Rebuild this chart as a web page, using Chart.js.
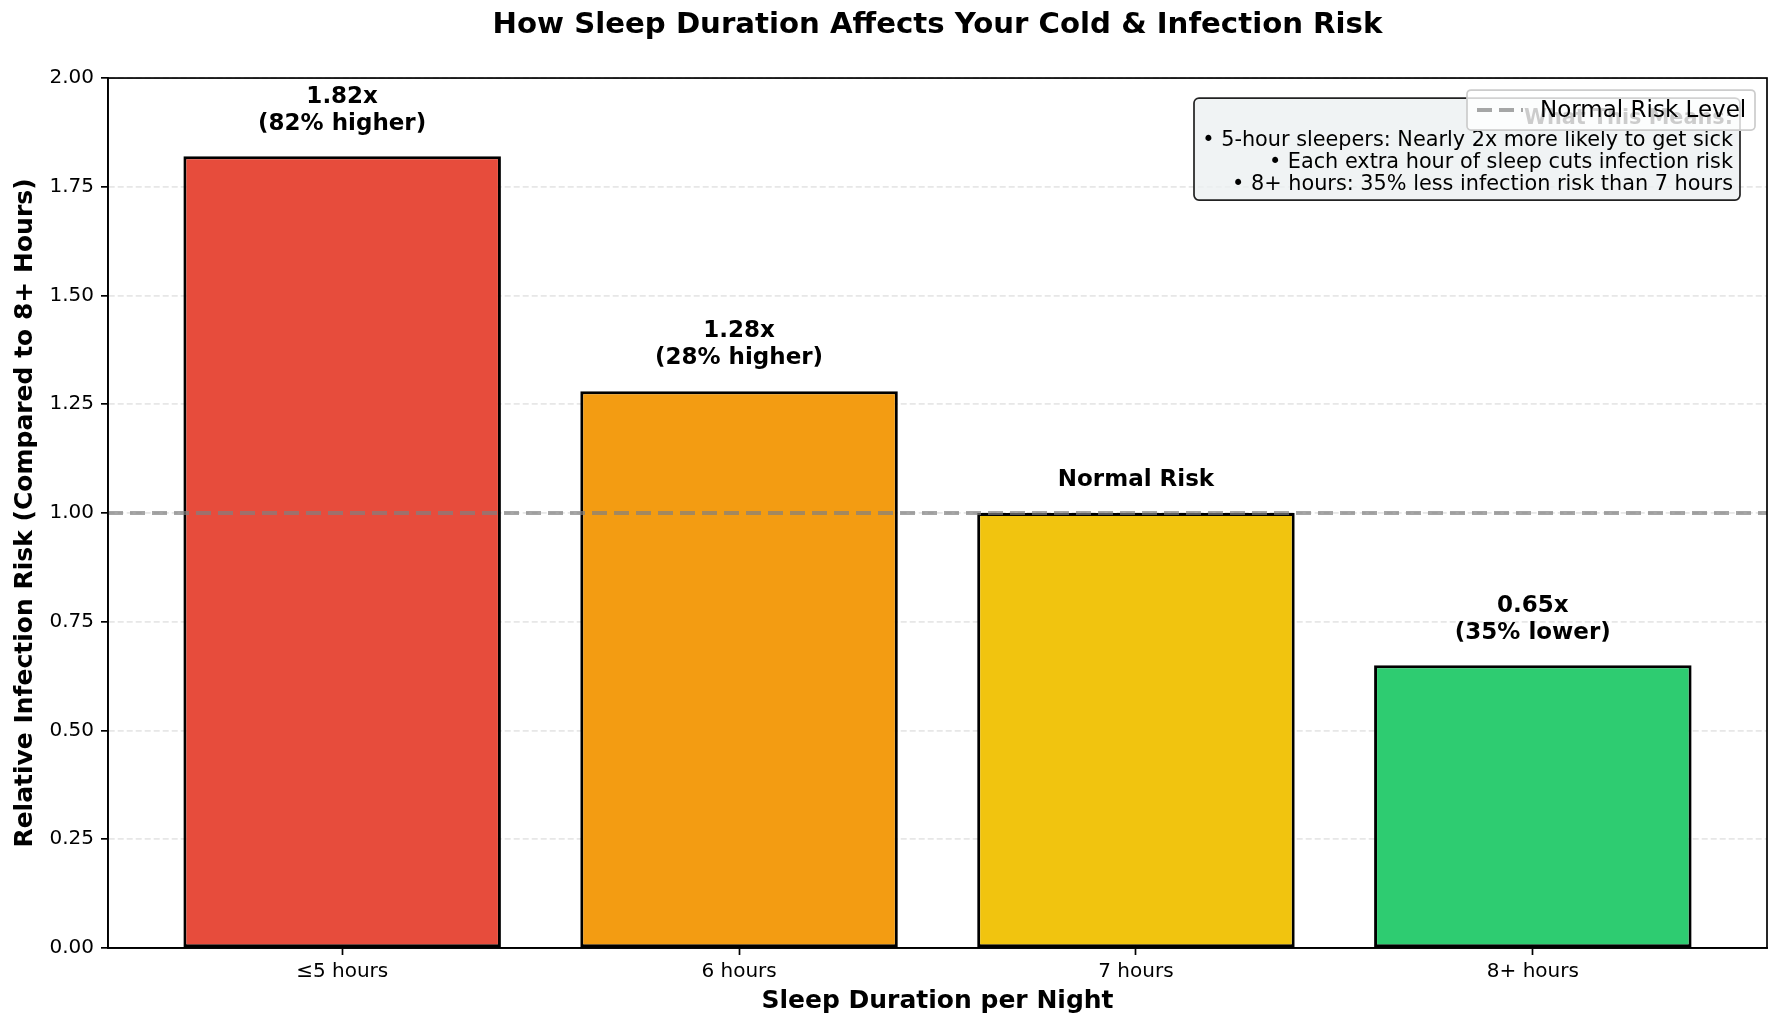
<!DOCTYPE html>
<html>
<head>
<meta charset='utf-8'>
<style>
    body { margin: 0; background: #fff; }
</style>
</head>
<body>
<canvas id='myChart' width='1782' height='1030'></canvas>
<script src='https://cdn.jsdelivr.net/npm/chart.js'></script>
<script>
    // data
    const categories = ['≤5 hours', '6 hours', '7 hours', '8+ hours'];
    const riskValues = [1.82, 1.28, 1.00, 0.65];
    const barLabels = [
        ['1.82x', '(82% higher)'],
        ['1.28x', '(28% higher)'],
        ['Normal Risk'],
        ['0.65x', '(35% lower)'],
    ];
    const barColors = ['#e74c3c', '#f39c12', '#f1c40f', '#2ecc71'];
    const normalRisk = 1.0;
    const labelOffset = 0.05;
    const xMin = -0.59;
    const xMax = 3.59;
    const infoLines = [
        'What This Means:',
        '• 5-hour sleepers: Nearly 2x more likely to get sick',
        '• Each extra hour of sleep cuts infection risk',
        '• 8+ hours: 35% less infection risk than 7 hours',
    ];

    const FONT = "'DejaVu Sans'";
    const lineGray = 'rgba(128,128,128,0.7)';

    Chart.defaults.font.family = FONT;
    Chart.defaults.color = '#000';

    const extras = {
        id: 'extras',
        afterDatasetsDraw(chart) {
            const ctx = chart.ctx;
            const xs = chart.scales.x;
            const ys = chart.scales.y;
            const a = chart.chartArea;
            ctx.save();

            // value labels above bars
            ctx.font = 'bold 23px ' + FONT;
            ctx.fillStyle = '#000';
            ctx.textAlign = 'center';
            ctx.textBaseline = 'alphabetic';
            barLabels.forEach(function (lines, i) {
                const px = xs.getPixelForValue(i);
                let py = ys.getPixelForValue(riskValues[i] + labelOffset) - 5;
                for (let k = lines.length - 1; k >= 0; k--) {
                    ctx.fillText(lines[k], px, py);
                    py -= 27;
                }
            });

            // frame
            ctx.strokeStyle = '#000';
            ctx.lineWidth = 1.7;
            ctx.strokeRect(a.left, a.top, a.right - a.left, a.bottom - a.top);
            ctx.restore();
        },
        afterDraw(chart) {
            const ctx = chart.ctx;
            const a = chart.chartArea;
            ctx.save();

            // info box
            const bw = 546, bh = 102;
            const bx = a.right - 27 - bw, by = a.top + 20;
            ctx.beginPath();
            ctx.roundRect(bx, by, bw, bh, 5);
            ctx.fillStyle = 'rgba(236,240,241,0.8)';
            ctx.fill();
            ctx.strokeStyle = '#222';
            ctx.lineWidth = 1.7;
            ctx.stroke();
            ctx.fillStyle = '#000';
            ctx.textAlign = 'right';
            ctx.textBaseline = 'middle';
            infoLines.forEach(function (t, i) {
                ctx.font = (i === 0 ? 'bold ' : '') + '20.8px ' + FONT;
                ctx.fillText(t, bx + bw - 7, by + 21 + i * 22);
            });

            // legend
            const lw = 288, lh = 40;
            const lx = a.right - 12 - lw, ly = a.top + 12;
            ctx.beginPath();
            ctx.roundRect(lx, ly, lw, lh, 4);
            ctx.fillStyle = 'rgba(255,255,255,0.8)';
            ctx.fill();
            ctx.strokeStyle = '#cccccc';
            ctx.lineWidth = 1.7;
            ctx.stroke();
            ctx.beginPath();
            ctx.setLineDash([15, 7]);
            ctx.strokeStyle = lineGray;
            ctx.lineWidth = 4;
            ctx.moveTo(lx + 10, ly + lh / 2);
            ctx.lineTo(lx + 56, ly + lh / 2);
            ctx.stroke();
            ctx.setLineDash([]);
            ctx.fillStyle = '#000';
            ctx.font = '23px ' + FONT;
            ctx.textAlign = 'left';
            ctx.fillText('Normal Risk Level', lx + 73, ly + lh / 2 + 1);
            ctx.restore();
        }
    };

    const data = {
        datasets: [{
            type: 'line',
            label: 'Normal Risk Level',
            data: [{x: xMin, y: normalRisk}, {x: xMax, y: normalRisk}],
            borderColor: lineGray,
            borderWidth: 4,
            borderDash: [15, 7],
            pointRadius: 0,
            order: 1,
        }, {
            type: 'bar',
            label: 'Risk',
            data: riskValues.map(function (v, i) { return {x: i, y: v}; }),
            backgroundColor: barColors,
            borderColor: '#000',
            borderWidth: 3,
            borderSkipped: false,
            categoryPercentage: 0.8,
            barPercentage: 1.0,
            order: 2,
        }],
    };

    const config = {
        data: data,
        options: {
            responsive: false,
            animation: false,
            layout: {padding: {left: 0, right: 15, top: 0, bottom: 0}},
            plugins: {
                legend: {display: false},
                tooltip: {enabled: false},
                title: {
                    display: true,
                    fullSize: false,
                    text: 'How Sleep Duration Affects Your Cold & Infection Risk',
                    font: {size: 29.2, weight: 'bold'},
                    color: '#000',
                    padding: {top: 8, bottom: 35},
                },
            },
            scales: {
                x: {
                    type: 'linear',
                    min: xMin,
                    max: xMax,
                    offset: false,
                    afterBuildTicks: function (scale) {
                        scale.ticks = categories.map(function (c, i) { return {value: i}; });
                    },
                    afterFit: function (scale) { scale.height = 82; },
                    ticks: {
                        callback: function (v) { return categories[v]; },
                        font: {size: 20},
                        color: '#000',
                        padding: 5,
                        autoSkip: false,
                        maxRotation: 0,
                    },
                    grid: {offset: false, drawOnChartArea: false, tickLength: 7, tickColor: '#000', tickWidth: 1.7},
                    border: {color: '#000', width: 1.7},
                    title: {
                        display: true,
                        text: 'Sleep Duration per Night',
                        font: {size: 25, weight: 'bold'},
                        color: '#000',
                        padding: {top: 0, bottom: 14},
                    },
                },
                y: {
                    min: 0,
                    max: 2,
                    afterFit: function (scale) { scale.width = 108; },
                    ticks: {
                        stepSize: 0.25,
                        callback: function (v) { return v.toFixed(2); },
                        font: {size: 20},
                        color: '#000',
                        padding: 7,
                    },
                    grid: {
                        color: 'rgba(176,176,176,0.3)',
                        lineWidth: 1.7,
                        tickLength: 7,
                        tickColor: '#000',
                        tickWidth: 1.7,
                        tickBorderDash: [],
                    },
                    border: {color: '#000', width: 1.7, dash: [6, 3]},
                    title: {
                        display: true,
                        text: 'Relative Infection Risk (Compared to 8+ Hours)',
                        font: {size: 25, weight: 'bold'},
                        color: '#000',
                        padding: {top: 10, bottom: 0},
                    },
                },
            },
        },
        plugins: [extras],
    };

    new Chart(document.getElementById('myChart'), config);
</script>
</body>
</html>
